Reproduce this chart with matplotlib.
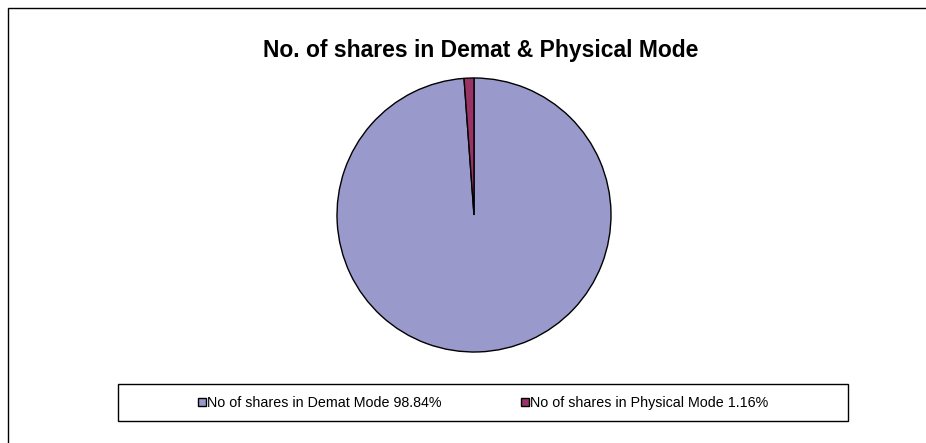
import matplotlib.pyplot as plt
from matplotlib.patches import Rectangle
from matplotlib.lines import Line2D

plt.rcParams['font.family'] = ['Liberation Sans', 'DejaVu Sans']

# ---- data ----
labels = ["No of shares in Demat Mode 98.84%", "No of shares in Physical Mode 1.16%"]
shares = [98.84, 1.16]
colors = ["#9999CC", "#993366"]
title = "No. of shares in Demat & Physical Mode"

W, H = 926, 443
fig = plt.figure(figsize=(W / 100, H / 100), dpi=100)

def px(x, y, w, h):
    # pixel box (top-left origin) -> figure fraction
    return [x / W, 1 - (y + h) / H, w / W, h / H]

# outer chart frame (runs off the right/bottom edge)
fig.patches.append(Rectangle((8 / W, -0.1), 1.2, 1 - 8 / H + 0.1, transform=fig.transFigure,
                             fill=False, ec="black", lw=1))

fig.text(481 / W, 1 - 50 / H, title, ha="center", va="center",
         fontsize=16.5, fontweight="bold")

# pie
ax = fig.add_axes(px(337, 78, 274, 274))
ax.pie(shares, colors=colors, startangle=90, counterclock=False,
       wedgeprops=dict(edgecolor="black", linewidth=1))
ax.set_xlim(-1, 1)
ax.set_ylim(-1, 1)
ax.set_aspect("auto")
ax.axis("off")

# legend box
fig.patches.append(Rectangle((118 / W, 1 - 421 / H), 730 / W, 37 / H,
                             transform=fig.transFigure, fill=False, ec="black", lw=1))
handles = [Line2D([], [], marker="s", ls="", ms=6, mfc=c, mec="black", mew=1) for c in colors]
fig.legend(handles, labels, ncol=2, loc="center", bbox_to_anchor=(483 / W, 1 - 403 / H),
           frameon=False, fontsize=10.3, handlelength=0.6, handletextpad=0.1,
           columnspacing=5.5)

fig.savefig("out.png", dpi=100)
